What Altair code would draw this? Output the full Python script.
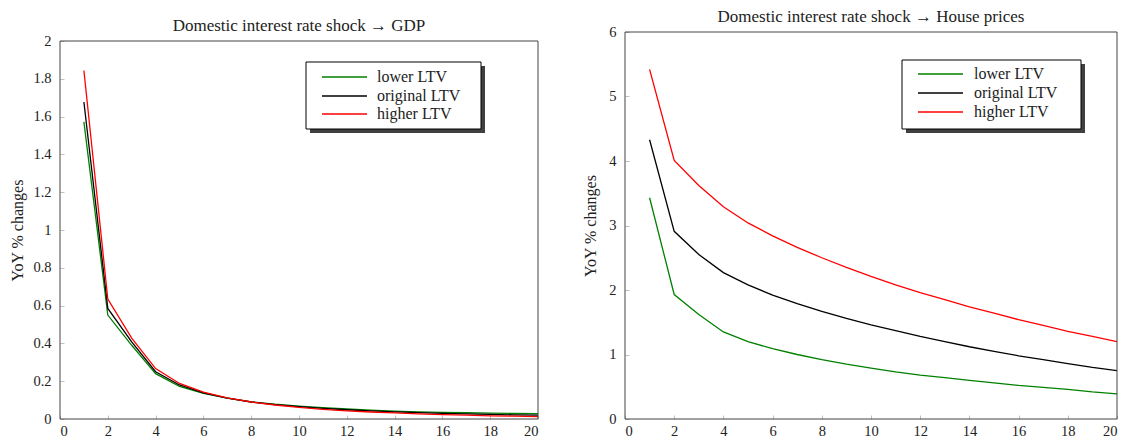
import altair as alt
import pandas as pd

quarters = list(range(1, 21))
series_names = ["lower LTV", "original LTV", "higher LTV"]
series_colors = ["#008000", "#000000", "#ff0000"]

gdp_lower = [1.572, 0.55, 0.39, 0.24, 0.173, 0.135, 0.11, 0.091, 0.078, 0.068,
             0.06, 0.053, 0.047, 0.042, 0.038, 0.035, 0.033, 0.031, 0.029, 0.028]
gdp_original = [1.677, 0.585, 0.408, 0.25, 0.18, 0.138, 0.11, 0.09, 0.076, 0.065,
                0.056, 0.049, 0.043, 0.038, 0.034, 0.03, 0.027, 0.024, 0.022, 0.02]
gdp_higher = [1.844, 0.635, 0.428, 0.267, 0.188, 0.142, 0.112, 0.09, 0.074, 0.061,
              0.051, 0.043, 0.037, 0.032, 0.027, 0.023, 0.02, 0.017, 0.015, 0.013]

hp_lower = [3.43, 1.93, 1.62, 1.35, 1.20, 1.09, 1.00, 0.92, 0.85, 0.79,
            0.73, 0.68, 0.64, 0.60, 0.56, 0.52, 0.49, 0.46, 0.42, 0.39]
hp_original = [4.33, 2.91, 2.55, 2.27, 2.08, 1.92, 1.79, 1.67, 1.56, 1.46,
               1.37, 1.28, 1.20, 1.12, 1.05, 0.98, 0.92, 0.86, 0.80, 0.75]
hp_higher = [5.42, 4.01, 3.62, 3.29, 3.04, 2.84, 2.66, 2.50, 2.35, 2.21,
             2.08, 1.96, 1.85, 1.74, 1.64, 1.54, 1.45, 1.36, 1.28, 1.20]

x_ticks = list(range(0, 21, 2))
gdp_ticks = [round(0.2 * i, 1) for i in range(11)]
hp_ticks = list(range(0, 7))

FONT = "Liberation Serif"
TXT = "#222"


def make_df(vals):
    rows = []
    for name, v in zip(series_names, vals):
        for q, y in zip(quarters, v):
            rows.append({"q": q, "val": y, "series": name})
    return pd.DataFrame(rows)


def panel(df, title_text, ymax, yticks, w, h, top, leg, dy):
    base = alt.Chart(df)
    lines = base.mark_line(strokeWidth=1.3, clip=True).encode(
        x=alt.X("q:Q", scale=alt.Scale(domain=[0, 20], nice=False),
                axis=alt.Axis(values=x_ticks, title=None, domain=False,
                              tickColor="#c0c0c0", tickSize=4, offset=-4,
                              labelPadding=5, labelFont=FONT, labelFontSize=14.5,
                              labelColor=TXT, grid=False, format="~g")),
        y=alt.Y("val:Q", scale=alt.Scale(domain=[0, ymax], nice=False, range=[h, top]),
                axis=alt.Axis(values=yticks, title="YoY % changes", domain=False,
                              tickColor="#c0c0c0", tickSize=4, offset=-4,
                              labelPadding=9, labelFont=FONT, labelFontSize=14.5,
                              labelColor=TXT, titleFont=FONT, titleFontSize=16,
                              titleFontWeight="normal", titleColor=TXT,
                              titlePadding=leg["tp"], grid=False, format="~g")),
        color=alt.Color("series:N", scale=alt.Scale(domain=series_names, range=series_colors),
                        legend=None),
        detail="series:N",
    )
    one = alt.Chart(pd.DataFrame({"k": [0]}))
    frame = one.mark_rect(fillOpacity=0, stroke="#444", strokeWidth=1).encode(
        x=alt.value(0), x2=alt.value(w), y=alt.value(top), y2=alt.value(h))
    lx0, lx1, ly0, ly1 = leg["box"]
    shadow = one.mark_rect(fill="#404040").encode(
        x=alt.value(lx0 + 4), x2=alt.value(lx1 + 4), y=alt.value(ly0 + 4), y2=alt.value(ly1 + 4))
    box = one.mark_rect(fill="white", stroke="black", strokeWidth=1).encode(
        x=alt.value(lx0), x2=alt.value(lx1), y=alt.value(ly0), y2=alt.value(ly1))
    layers = [lines, frame, shadow, box]
    for i, (name, col) in enumerate(zip(series_names, series_colors)):
        yy = leg["rows"][i]
        layers.append(one.mark_rule(color=col, strokeWidth=1.3).encode(
            x=alt.value(leg["rx"][0]), x2=alt.value(leg["rx"][1]), y=alt.value(yy)))
        layers.append(alt.Chart(pd.DataFrame({"t": [name]})).mark_text(
            align="left", baseline="middle", font=FONT, fontSize=16, color=TXT).encode(
            x=alt.value(leg["tx"]), y=alt.value(yy), text="t:N"))
    return alt.layer(*layers).properties(
        width=w, height=h,
        title=alt.TitleParams(title_text, font=FONT, fontSize=17, fontWeight="normal",
                              color=TXT, offset=-2, dy=dy))


left = panel(make_df([gdp_lower, gdp_original, gdp_higher]),
             "Domestic interest rate shock \u2192 GDP", 2, gdp_ticks, 478, 387, 9,
             {"box": (246, 421, 30, 97), "rows": [45, 64, 82], "rx": (262, 307), "tx": 317, "tp": 7},
             1)
right = panel(make_df([hp_lower, hp_original, hp_higher]),
              "Domestic interest rate shock \u2192 House prices", 6, hp_ticks, 492, 387, 0,
              {"box": (277, 456, 28, 97), "rows": [42, 61, 80], "rx": (293, 338), "tx": 349, "tp": 10},
              0)

chart = alt.hconcat(left, right, spacing=43).properties(
    padding={"left": 1, "top": 0, "right": 0, "bottom": 0}
).configure_view(strokeWidth=0)

chart.save("out.html", embed_options={"renderer": "svg", "actions": False})
